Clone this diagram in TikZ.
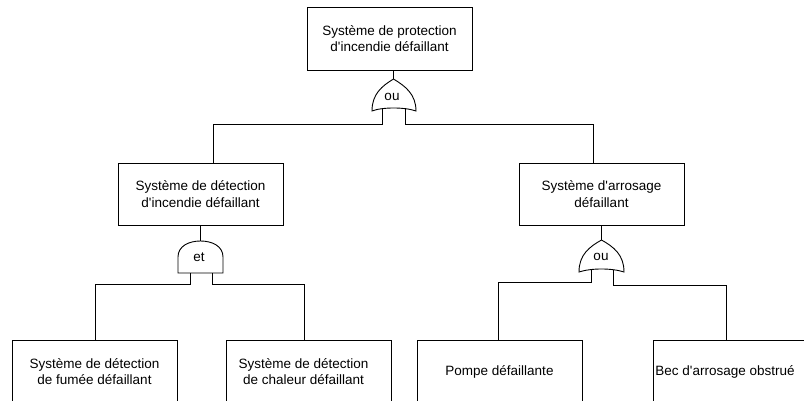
\documentclass[tikz,border=0pt]{standalone}
\usepackage{fontspec}
\setmainfont{Liberation Sans}

\begin{document}
\begin{tikzpicture}[x=1pt, y=-1pt,
		font=\fontsize{13.5}{16.5}\selectfont,
		box/.style={draw, line width=0.9, minimum width=165, minimum height=62,
			align=center, inner sep=0},
		wire/.style={-, line width=0.9}]
			\useasboundingbox (0, 0) rectangle (804, 401);
			\clip (0, 0) rectangle (804, 401);

			% top event
			\node[box, minimum height=63] (prot) at (389.5, 38.5)
				{Système de protection\\d\textquotesingle incendie défaillant};

			% gate ou (top)
			\draw[wire]
				(372, 111) .. controls (372, 94) and (382, 86) .. (393.5, 79)
				.. controls (405, 86) and (416, 94) .. (416, 111)
				.. controls (405, 107) and (382, 107) .. cycle;
			\coordinate (ou1) at (393.5, 79);
			\coordinate (ou1-l) at (382, 108.5);
			\coordinate (ou1-r) at (405, 108.5);
			\node (ou1-txt) at (392, 96.5)
				{ou};
			\draw[wire]
				(prot.south -| ou1) -- (ou1);

			% level 2
			\node[box] (det) at (200.5, 194)
				{Système de détection\\d\textquotesingle incendie défaillant};
			\node[box] (arr) at (601.5, 194)
				{Système d\textquotesingle arrosage\\défaillant};
			\coordinate (det-in) at (213, 163);
			\coordinate (arr-in) at (593, 163);
			\draw[wire]
				(ou1-l) -- ++(0, 15.5) -| (det-in);
			\draw[wire]
				(ou1-r) -- ++(0, 15.5) -| (arr-in);

			% gate et
			\draw[wire]
				(178, 273) -- (178, 257) .. controls (178, 246) and (189, 241) .. (200.5, 241)
				.. controls (212, 241) and (223, 246) .. (223, 257) -- (223, 273) -- cycle;
			\coordinate (et) at (200.5, 241);
			\coordinate (et-l) at (190, 273);
			\coordinate (et-r) at (212, 273);
			\node (et-txt) at (199, 257.5)
				{et};
			\draw[wire]
				(det) -- (et);

			% gate ou (right)
			\draw[wire]
				(579, 272) .. controls (579, 255) and (589, 247) .. (601.5, 240)
				.. controls (614, 247) and (624, 255) .. (624, 272)
				.. controls (612, 268) and (591, 268) .. cycle;
			\coordinate (ou2) at (601.5, 240);
			\coordinate (ou2-l) at (591, 269.5);
			\coordinate (ou2-r) at (613, 269.5);
			\node (ou2-txt) at (601, 256.5)
				{ou};
			\draw[wire]
				(arr) -- (ou2);

			% basic events
			\node[box, minimum height=63] (fum) at (94.5, 371.5)
				{Système de détection\\de fumée défaillant};
			\node[box, minimum height=63] (chal) at (309, 371.5)
				{};
			\node[align=center] (chal-txt) at (303.5, 371.5)
				{Système de détection\\de chaleur défaillant};
			\node[box, minimum height=63] (pompe) at (499.5, 371.5)
				{Pompe défaillante};
			\node[box, minimum height=63] (bec) at (735.5, 371.5)
				{};
			\node (bec-txt) at (725, 371.5)
				{Bec d\textquotesingle arrosage obstrué};
			\coordinate (fum-in) at (95, 340);
			\coordinate (chal-in) at (304, 340);
			\coordinate (pompe-in) at (498.5, 340);
			\coordinate (bec-in) at (726, 340);
			\draw[wire]
				(et-l) -- ++(0, 11) -| (fum-in);
			\draw[wire]
				(et-r) -- ++(0, 11) -| (chal-in);
			\draw[wire]
				(ou2-l) -- ++(0, 12.5) -| (pompe-in);
			\draw[wire]
				(ou2-r) -- ++(0, 15.5) -| (bec-in);

		\end{tikzpicture}
\end{document}
